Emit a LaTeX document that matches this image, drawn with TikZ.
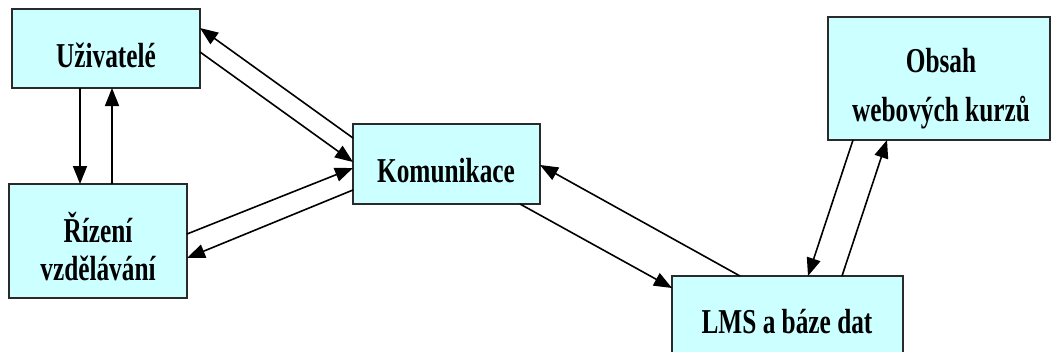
\documentclass[tikz,border=0pt]{standalone}
\usepackage{fontspec}
\usepackage{graphicx}
\setmainfont{Liberation Serif}
\usetikzlibrary{arrows.meta,calc}
\definecolor{boxfill}{HTML}{CCFFFF}
\definecolor{boxline}{HTML}{2A2A2A}
\newcommand{\tallbf}[1]{\scalebox{1}[1.38]{#1}}
\begin{document}
\begin{tikzpicture}[x=1pt,y=-1pt,
  box/.style={draw=boxline, fill=boxfill, line width=1.3pt, inner sep=0pt, outer sep=0pt},
  lbl/.style={anchor=base, inner sep=0pt, font=\fontsize{25.3}{30}\selectfont\bfseries},
  link/.style={-{Triangle[length=18pt,width=14pt]}, line width=1.6pt, black}]
  \useasboundingbox (0,0) rectangle (1052,351);
  \clip (0,0) rectangle (1052,351);

  % boxes
  \node[box, minimum width=188pt, minimum height=79pt]  (uziv) at (106,48.5) {};
  \node[box, minimum width=178pt, minimum height=114pt] (riz)  at (98,241) {};
  \node[box, minimum width=187pt, minimum height=80pt]  (kom)  at (446.5,164) {};
  \node[box, minimum width=231pt, minimum height=94pt]  (lms)  at (787.5,323) {};
  \node[box, minimum width=222pt, minimum height=123pt] (obs)  at (939,78.5) {};

  % texts
  \node[lbl] (uzivT)  at (106,67)  {\tallbf{Uživatelé}};
  \node[lbl] (rizT1)  at (98,242)  {\tallbf{Řízení}};
  \node[lbl] (rizT2)  at (98,280)  {\tallbf{vzdělávání}};
  \node[lbl] (komT)   at (446,182) {\tallbf{Komunikace}};
  \node[lbl] (lmsT)   at (787,333) {\tallbf{LMS a báze dat}};
  \node[lbl] (obsT1)  at (941,72)  {\tallbf{Obsah}};
  \node[lbl] (obsT2)  at (941,121) {\tallbf{webových kurzů}};

  % Uživatelé <-> Řízení vzdělávání
  \draw[link] ($(uziv.south west)+(68,0)$) -- ($(riz.north west)+(71,0)$);
  \draw[link] ($(riz.north west)+(103,0)$) -- ($(uziv.south west)+(100,0)$);

  % Uživatelé <-> Komunikace
  \draw[link] ($(kom.north west)+(0,14)$) -- ($(uziv.north east)+(0,19)$);
  \draw[link] ($(uziv.north east)+(0,43)$) -- ($(kom.north west)+(0,38)$);

  % Řízení vzdělávání <-> Komunikace
  \draw[link] ($(riz.north east)+(0,50)$) -- ($(kom.north west)+(0,44)$);
  \draw[link] ($(kom.north west)+(0,66)$) -- ($(riz.north east)+(0,74)$);

  % Komunikace <-> LMS a báze dat
  \draw[link] ($(kom.south east)+(-20,0)$) -- ($(lms.north west)+(0,12)$);
  \draw[link] ($(lms.north west)+(68,0)$) -- ($(kom.north east)+(0,41)$);

  % LMS a báze dat <-> Obsah webových kurzů
  \draw[link] ($(obs.south west)+(25,0)$) -- ($(lms.north west)+(136,0)$);
  \draw[link] ($(lms.north west)+(170,0)$) -- ($(obs.south west)+(59,0)$);
\end{tikzpicture}
\end{document}
